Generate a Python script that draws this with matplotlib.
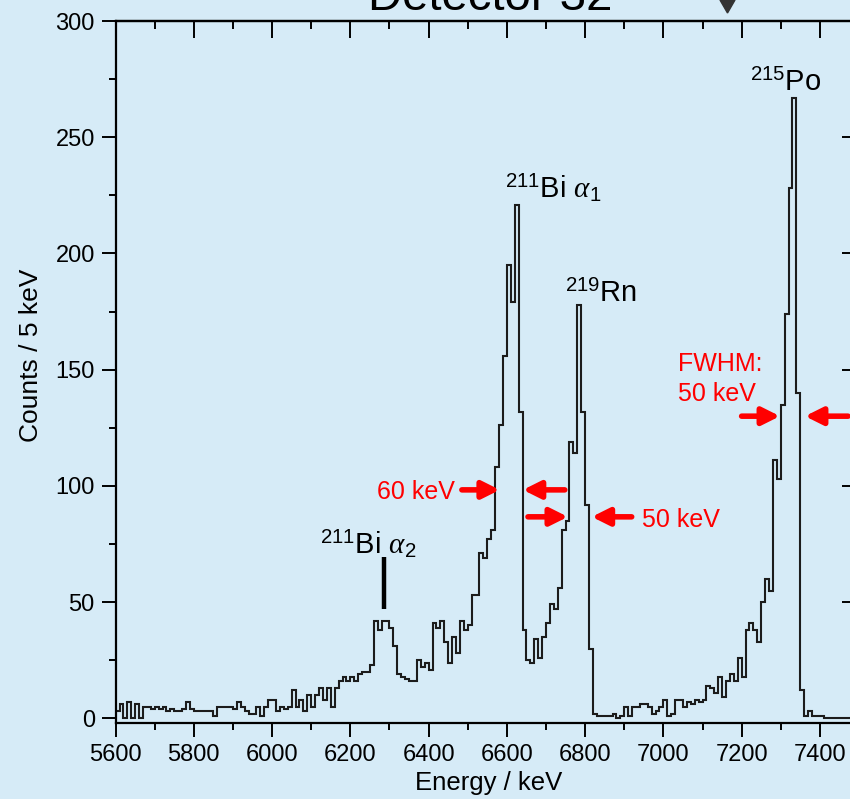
import numpy as np
import matplotlib.pyplot as plt
from matplotlib.ticker import MultipleLocator
from matplotlib.patches import Polygon

plt.rcParams['font.family'] = ['Liberation Sans', 'DejaVu Sans']
plt.rcParams['mathtext.fontset'] = 'custom'
plt.rcParams['mathtext.rm'] = 'Liberation Sans'
plt.rcParams['mathtext.it'] = 'Liberation Serif:italic'

# histogram: 10 keV bins starting at 5600 keV
energy_start = 5600
bin_width = 10
counts = [
    # 5600 - 5880
    3, 6, 0, 7, 0, 6, 0, 5, 5, 4, 5, 4, 5, 3, 4, 3, 3, 4, 7, 4, 3, 3, 3, 3, 3, 1, 5, 5, 5,
    # 5890 - 6180
    5, 4, 7, 5, 3, 2, 2, 5, 1, 5, 8, 8, 3, 5, 4, 5, 12, 5, 8, 3, 10, 5, 10, 13, 8, 13, 5, 13, 16, 18,
    # 6190 - 6250
    16, 18, 16, 19, 20, 20, 23,
    # 6260 - 6400  (211Bi alpha2)
    42, 38, 42, 42, 39, 31, 19, 18, 17, 16, 16, 25, 22, 24, 21,
    # 6410 - 6560
    41, 39, 42, 33, 24, 35, 28, 42, 38, 40, 53, 53, 71, 69, 77, 81,
    # 6570 - 6630  (211Bi alpha1)
    108, 126, 156, 195, 179, 221, 132,
    # 6640 - 6820  (219Rn)
    38, 25, 24, 34, 26, 35, 41, 49, 47, 56, 81, 85, 119, 114, 178, 132, 92, 30, 2,
    # 6830 - 7180
    1, 1, 1, 1, 2, 0, 1, 5, 1, 5, 5, 6, 6, 5, 2, 3, 5, 8, 1, 2, 8, 8, 5, 7, 6, 8, 7, 8,
    14, 13, 11, 18, 9, 16, 19, 16,
    # 7190 - 7340  (215Po)
    26, 18, 38, 41, 38, 33, 50, 60, 55, 111, 103, 135, 174, 228, 267, 140,
    # 7350 - 7490
    12, 1, 3, 1, 1, 1, 0, 0, 0, 0, 0, 0, 0, 0, 0,
]
edges = energy_start + bin_width * np.arange(len(counts) + 1)

bg = '#d6ebf7'
fig = plt.figure(figsize=(8.5, 7.99), dpi=100, facecolor=bg)
ax = fig.add_axes([0.136, 0.0951, 0.8746, 0.8786])
ax.set_facecolor(bg)

ax.stairs(counts, edges, baseline=None, color='#1c1c1c', lw=1.5)

ax.set_xlim(5600, 7500)
ax.set_ylim(-2, 300)
ax.xaxis.set_major_locator(MultipleLocator(200))
ax.xaxis.set_minor_locator(MultipleLocator(100))
ax.yaxis.set_major_locator(MultipleLocator(50))
ax.yaxis.set_minor_locator(MultipleLocator(25))
ax.tick_params(which='both', direction='out', width=1.4, labelsize=17, pad=5)
ax.tick_params(which='major', length=10)
ax.tick_params(which='minor', length=5)
for s in ax.spines.values():
    s.set_linewidth(1.6)

# inward ticks on top and right
top = ax.secondary_xaxis('top')
top.xaxis.set_major_locator(MultipleLocator(200))
top.xaxis.set_minor_locator(MultipleLocator(100))
top.tick_params(which='both', direction='in', width=1.4, labeltop=False)
top.tick_params(which='major', length=12)
top.tick_params(which='minor', length=6)
top.spines['top'].set_linewidth(1.6)
right = ax.secondary_yaxis('right')
right.yaxis.set_major_locator(MultipleLocator(50))
right.yaxis.set_minor_locator(MultipleLocator(25))
right.tick_params(which='both', direction='in', width=1.4, labelright=False)
right.tick_params(which='major', length=12)
right.tick_params(which='minor', length=6)

ax.set_xlabel('Energy / keV', fontsize=18.5)
ax.xaxis.set_label_coords(0.502, -0.068)
ax.set_ylabel('Counts / 5 keV', fontsize=19)
ax.yaxis.set_label_coords(-0.098, 0.524)

# peak labels
ax.text(6595, 224, r'$^{211}$Bi $\alpha_1$', fontsize=21, va='baseline')
ax.text(6748, 179, r'$^{219}$Rn', fontsize=21, va='baseline')
ax.text(7221, 270, r'$^{215}$Po', fontsize=21, va='baseline')
ax.text(6122, 71, r'$^{211}$Bi $\alpha_2$', fontsize=21, va='baseline')
ax.plot([6287, 6287], [47, 69.5], color='black', lw=3.2, solid_capstyle='butt')

# FWHM arrows
red = '#ff0000'
arrow_kw = dict(arrowstyle='-|>', color=red, lw=4, mutation_scale=26,
                shrinkA=0, shrinkB=0)
for tail, tip, y in [(6485, 6582, 98.3), (6748, 6641, 98.3),
                     (6654, 6756, 86.7), (6919, 6817, 86.7),
                     (7200, 7298, 130), (7472, 7362, 130)]:
    ax.annotate('', xy=(tip, y), xytext=(tail, y), arrowprops=arrow_kw)

ax.text(6467, 97.4, '60 keV', color=red, fontsize=18, ha='right', va='center')
ax.text(6945, 85.4, '50 keV', color=red, fontsize=18, ha='left', va='center')
ax.text(7037, 146, 'FWHM:\n50 keV', color=red, fontsize=18, ha='left',
        va='center', linespacing=1.35)

# cropped title and pointer at the top edge
fig.text(0.5765, 0.9875, 'Detector 32', fontsize=34, ha='center', va='baseline')
fig.add_artist(Polygon([(720 / 850, 1.0), (735 / 850, 1.0), (727.5 / 850, 1 - 13 / 799)],
                       closed=True, transform=fig.transFigure, color='#333333'))

fig.savefig('out.png', dpi=100, facecolor=bg)
